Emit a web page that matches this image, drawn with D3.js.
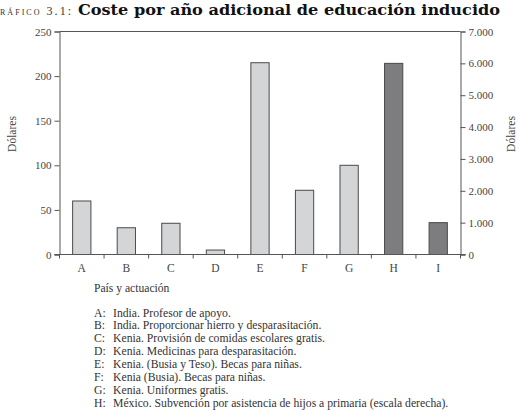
<!DOCTYPE html>
<html>
<head>
<meta charset="utf-8">
<script src="https://cdn.jsdelivr.net/npm/d3@7"></script>
<style>
  body { margin: 0; background: #fff; }
  svg text { font-family: "Liberation Serif", "DejaVu Serif", serif; }
</style>
</head>
<body>
<div id="main"></div>
<script>
// chart data
const categories = ["A", "B", "C", "D", "E", "F", "G", "H", "I"];
const leftValues = [60, 30, 35, 5, 215, 72, 100, null, null];   // dólares, escala izquierda
const rightValues = [null, null, null, null, null, null, null, 6000, 1000]; // escala derecha
const leftTicks = [0, 50, 100, 150, 200, 250];
const rightTicks = [0, 1000, 2000, 3000, 4000, 5000, 6000, 7000];
const notes = [
  ["A:", "India. Profesor de apoyo."],
  ["B:", "India. Proporcionar hierro y desparasitación."],
  ["C:", "Kenia. Provisión de comidas escolares gratis."],
  ["D:", "Kenia. Medicinas para desparasitación."],
  ["E:", "Kenia. (Busia y Teso). Becas para niñas."],
  ["F:", "Kenia (Busia). Becas para niñas."],
  ["G:", "Kenia. Uniformes gratis."],
  ["H:", "México. Subvención por asistencia de hijos a primaria (escala derecha)."]
];

const w = 519, h = 410;
const pLeft = 59.5, pRight = 460.5, pTop = 31.5, pBottom = 254.5;

const svg = d3.select('#main').append('svg')
  .attr('width', w)
  .attr('height', h);

// title
svg.append('text')
  .attr('x', 0).attr('y', 15)
  .attr('font-size', 12)
  .attr('fill', '#333')
  .attr('textLength', 71)
  .attr('lengthAdjust', 'spacing')
  .style('font-variant', 'small-caps')
  .text('ráfico 3.1:');
svg.append('text')
  .attr('x', 78).attr('y', 15)
  .attr('font-size', 14)
  .attr('font-weight', 'bold')
  .attr('fill', '#111')
  .attr('textLength', 422)
  .attr('lengthAdjust', 'spacingAndGlyphs')
  .style('font-family', '"DejaVu Serif", serif')
  .text('Coste por año adicional de educación inducido');

const x = d3.scaleBand()
  .domain(categories)
  .range([pLeft, pRight])
  .paddingInner(0.59)
  .paddingOuter(0.295);

const yL = d3.scaleLinear().domain([0, 250]).range([pBottom, pTop]);
const yR = d3.scaleLinear().domain([0, 7000]).range([pBottom, pTop]);

// frame top line
svg.append('line')
  .attr('x1', pLeft).attr('x2', pRight)
  .attr('y1', pTop).attr('y2', pTop)
  .attr('stroke', '#555');

// bars
const barData = categories.map((c, i) => ({
  c: c,
  v: leftValues[i] != null ? leftValues[i] : rightValues[i],
  scale: leftValues[i] != null ? yL : yR,
  dark: leftValues[i] == null
}));

svg.selectAll('rect.bar')
  .data(barData)
  .enter()
  .append('rect')
  .attr('class', 'bar')
  .attr('x', d => x(d.c))
  .attr('y', d => d.scale(d.v))
  .attr('width', x.bandwidth())
  .attr('height', d => pBottom - d.scale(d.v))
  .attr('fill', d => d.dark ? '#7d7d7f' : '#d4d5d7')
  .attr('stroke', '#4a4a4a')
  .attr('stroke-width', 1);

const fmt = d => d3.format(',')(d).replace(/,/g, '.');

// left axis
const yAxisL = d3.axisLeft(yL).tickValues(leftTicks).tickSize(5).tickPadding(3);
svg.append('g')
  .attr('transform', 'translate(' + pLeft + ',0)')
  .call(yAxisL)
  .call(g => g.select('.domain').attr('stroke', '#555'))
  .call(g => g.selectAll('.tick line').attr('stroke', '#555'))
  .call(g => g.selectAll('.tick text').attr('font-size', 11).attr('fill', '#444')
    .style('font-family', '"Liberation Serif", serif'));

// right axis
const yAxisR = d3.axisRight(yR).tickValues(rightTicks).tickFormat(fmt).tickSize(5).tickPadding(3);
svg.append('g')
  .attr('transform', 'translate(' + pRight + ',0)')
  .call(yAxisR)
  .call(g => g.select('.domain').attr('stroke', '#555'))
  .call(g => g.selectAll('.tick line').attr('stroke', '#555'))
  .call(g => g.selectAll('.tick text').attr('font-size', 11).attr('fill', '#444')
    .style('font-family', '"Liberation Serif", serif'));

// bottom axis: line, ticks at category boundaries, labels centred
const xAxis = svg.append('g').attr('id', 'x-axis');
xAxis.append('line')
  .attr('x1', pLeft - 5).attr('x2', pRight + 5)
  .attr('y1', pBottom).attr('y2', pBottom)
  .attr('stroke', '#555');
const bounds = categories.map(c => x(c) + x.bandwidth() / 2 - x.step() / 2)
  .concat([pRight]);
xAxis.selectAll('line.tk')
  .data(bounds)
  .enter()
  .append('line')
  .attr('class', 'tk')
  .attr('x1', d => d).attr('x2', d => d)
  .attr('y1', pBottom).attr('y2', pBottom + 4)
  .attr('stroke', '#555');
xAxis.selectAll('text')
  .data(categories)
  .enter()
  .append('text')
  .attr('x', d => x(d) + x.bandwidth() / 2)
  .attr('y', pBottom + 17)
  .attr('text-anchor', 'middle')
  .attr('font-size', 11.5)
  .attr('fill', '#444')
  .text(d => d);

// axis titles
svg.append('text')
  .attr('transform', 'translate(16,134) rotate(-90)')
  .attr('text-anchor', 'middle')
  .attr('font-size', 11.5)
  .attr('fill', '#444')
  .text('Dólares');
svg.append('text')
  .attr('transform', 'translate(515,134) rotate(-90)')
  .attr('text-anchor', 'middle')
  .attr('font-size', 11.5)
  .attr('fill', '#444')
  .text('Dólares');

svg.append('text')
  .attr('x', 94).attr('y', 292)
  .attr('font-size', 11.6)
  .attr('fill', '#333')
  .text('País y actuación');

// notes
const noteG = svg.append('g');
notes.forEach((n, i) => {
  const yy = 316.5 + i * 12.86;
  noteG.append('text')
    .attr('x', 94).attr('y', yy)
    .attr('font-size', 11.7)
    .attr('fill', '#333')
    .text(n[0]);
  noteG.append('text')
    .attr('x', 113).attr('y', yy)
    .attr('font-size', 11.7)
    .attr('fill', '#333')
    .text(n[1]);
});
</script>
</body>
</html>
